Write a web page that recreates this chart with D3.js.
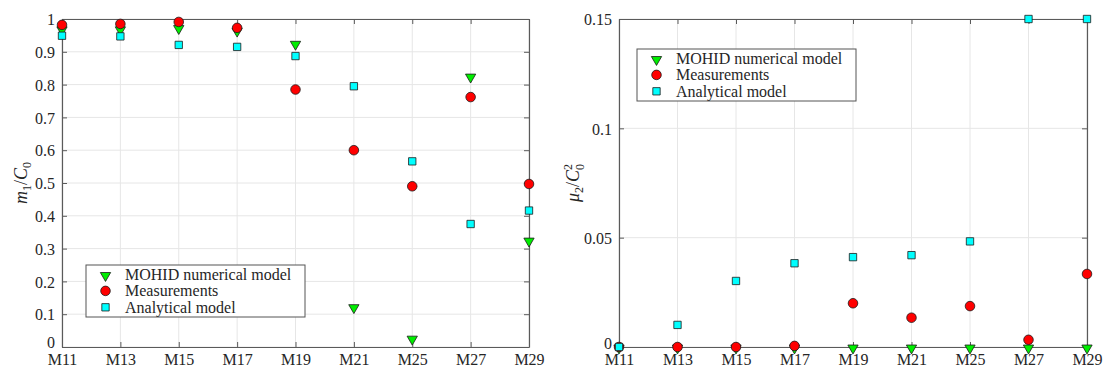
<!DOCTYPE html>
<html>
<head>
<meta charset="utf-8">
<script src="https://cdn.jsdelivr.net/npm/d3@7"></script>
<style>
  html, body { margin: 0; padding: 0; background: #fff; }
  svg { display: block; }
  text { font-family: "Liberation Serif", "Times New Roman", serif; fill: #262626; }
</style>
</head>
<body>
<svg id="chart" width="1105" height="372"></svg>
<script>
// ---- data ----
const categories = ["M11", "M13", "M15", "M17", "M19", "M21", "M25", "M27", "M29"];
const seriesNames = ["MOHID numerical model", "Measurements", "Analytical model"];

// left panel: m1 / C0
const m1Mohid      = [0.970, 0.970, 0.974, 0.966, 0.926, 0.123, 0.027, 0.826, 0.326];
const m1Measured   = [0.982, 0.985, 0.991, 0.973, 0.785, 0.600, 0.490, 0.762, 0.497];
const m1Analytical = [0.949, 0.947, 0.921, 0.915, 0.887, 0.795, 0.566, 0.375, 0.416];
const m1Ticks = [0, 0.1, 0.2, 0.3, 0.4, 0.5, 0.6, 0.7, 0.8, 0.9, 1];

// right panel: mu2 / C0^2
const mu2Mohid      = [0, 0, 0, 0, 0, 0, 0, 0, 0];
const mu2Measured   = [0, 0, 0, 0.0005, 0.020, 0.0134, 0.0187, 0.0033, 0.0334];
const mu2Analytical = [0, 0.0101, 0.0302, 0.0383, 0.0411, 0.042, 0.0483, 0.15, 0.15];
const mu2Ticks = [0, 0.05, 0.1, 0.15];

// ---- styling ----
const colors = ["#00ee00", "#ff0000", "#00ffff"];
const symbols = ["triangleDown", "circle", "square"];
const axisColor = "#5a5a5a";
const gridColor = "#e6e6e6";
const serif = '"Liberation Serif", "Times New Roman", serif';

const svg = d3.select("#chart");

function markerPath(kind) {
  if (kind === "triangleDown") return d3.symbol(d3.symbolTriangle, 46)();
  if (kind === "circle") return d3.symbol(d3.symbolCircle, 72)();
  return d3.symbol(d3.symbolSquare, 54)();
}
function drawMarker(g, kind, x, y, color) {
  const p = g.append("path")
    .attr("d", markerPath(kind))
    .attr("fill", color)
    .attr("stroke", "#1a1a1a")
    .attr("stroke-width", 0.8);
  if (kind === "triangleDown") p.attr("transform", `translate(${x},${y + 1}) rotate(180)`);
  else p.attr("transform", `translate(${x},${y})`);
}

function panel(opts) {
  const { x0, x1, y0, y1, domainMax, ticks, tickFmt, series, legend, zeroShift } = opts;
  const g = svg.append("g");
  const x = d3.scalePoint().domain(categories).range([x0, x1]);
  const y = d3.scaleLinear().domain([0, domainMax]).range([y1, y0]);

  // grid
  g.append("g").selectAll("line").data(categories).join("line")
    .attr("x1", d => x(d)).attr("x2", d => x(d)).attr("y1", y0).attr("y2", y1)
    .attr("stroke", gridColor).attr("stroke-width", 1);
  g.append("g").selectAll("line").data(ticks).join("line")
    .attr("x1", x0).attr("x2", x1).attr("y1", d => y(d)).attr("y2", d => y(d))
    .attr("stroke", gridColor).attr("stroke-width", 1);

  // axes with D3
  const tl = 5;
  const bottom = g.append("g").attr("transform", `translate(0,${y1})`)
    .call(d3.axisBottom(x).tickSizeInner(-tl).tickSizeOuter(0).tickPadding(6));
  const left = g.append("g").attr("transform", `translate(${x0},0)`)
    .call(d3.axisLeft(y).tickValues(ticks).tickFormat(tickFmt).tickSizeInner(-tl).tickSizeOuter(0).tickPadding(7));
  const top = g.append("g").attr("transform", `translate(0,${y0})`)
    .call(d3.axisTop(x).tickSizeInner(-tl).tickSizeOuter(0).tickFormat(""));
  const right = g.append("g").attr("transform", `translate(${x1},0)`)
    .call(d3.axisRight(y).tickValues(ticks).tickSizeInner(-tl).tickSizeOuter(0).tickFormat(""));
  [bottom, left, top, right].forEach(a => {
    a.attr("font-family", null).attr("font-size", null);
    a.select(".domain").attr("stroke", axisColor).attr("stroke-width", 1.2);
    a.selectAll(".tick line").attr("stroke", axisColor);
    a.selectAll("text").attr("fill", "#262626")
      .style("font-family", serif).style("font-size", "16px");
  });
  bottom.selectAll(".tick text").attr("dy", "0.72em");
  left.selectAll(".tick text").attr("dy", d => d === 0 ? `${0.36 - zeroShift}em` : "0.36em");

  // markers
  const mg = g.append("g");
  series.forEach((vals, si) => {
    vals.forEach((v, i) => drawMarker(mg, symbols[si], x(categories[i]), y(v), colors[si]));
  });

  // legend
  const lg = g.append("g");
  lg.append("rect").attr("x", legend.x).attr("y", legend.y)
    .attr("width", legend.w).attr("height", legend.h)
    .attr("fill", "#fff").attr("stroke", "#555").attr("stroke-width", 1);
  seriesNames.forEach((name, i) => {
    const cy = legend.y + 9.5 + i * 16.4;
    drawMarker(lg, symbols[i], legend.x + 19.5, cy, colors[i]);
    lg.append("text").attr("x", legend.x + 39).attr("y", cy).attr("dy", "0.33em")
      .style("font-family", serif).style("font-size", "16px").text(name);
  });
  return { x, y };
}

panel({
  x0: 62, x1: 529, y0: 19, y1: 347, domainMax: 1,
  ticks: m1Ticks, tickFmt: d => String(+d.toFixed(1)), zeroShift: 0.3,
  series: [m1Mohid, m1Measured, m1Analytical],
  legend: { x: 86, y: 265, w: 219, h: 52 }
});
panel({
  x0: 619, x1: 1087, y0: 19, y1: 347, domainMax: 0.15,
  ticks: mu2Ticks, tickFmt: d => String(+d.toFixed(2)), zeroShift: 0.25,
  series: [mu2Mohid, mu2Measured, mu2Analytical],
  legend: { x: 637, y: 49, w: 219, h: 52 }
});

// y-axis labels
const l1 = svg.append("text").attr("transform", "translate(27,183) rotate(-90)")
  .attr("text-anchor", "middle").style("font-family", serif).style("font-size", "18px");
l1.append("tspan").style("font-style", "italic").text("m");
l1.append("tspan").attr("dy", 4).style("font-size", "12px").text("1");
l1.append("tspan").attr("dy", -4).text("/");
l1.append("tspan").style("font-style", "italic").text("C");
l1.append("tspan").attr("dy", 4).style("font-size", "12px").text("0");

const l2 = svg.append("text").attr("transform", "translate(579,183) rotate(-90)")
  .attr("text-anchor", "middle").style("font-family", serif).style("font-size", "18px");
l2.append("tspan").style("font-style", "italic").text("μ");
l2.append("tspan").attr("dy", 4).style("font-size", "12px").text("2");
l2.append("tspan").attr("dy", -4).text("/");
l2.append("tspan").style("font-style", "italic").text("C");
l2.append("tspan").attr("dy", -7).style("font-size", "12px").text("2");
l2.append("tspan").attr("dx", -6).attr("dy", 12).style("font-size", "12px").text("0");
</script>
</body>
</html>
